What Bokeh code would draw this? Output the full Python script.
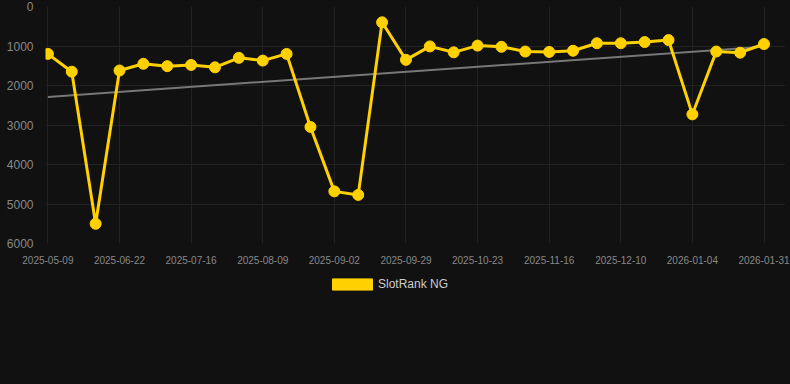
import numpy as np
from bokeh.plotting import figure
from bokeh.layouts import column
from bokeh.models import Range1d, FixedTicker, Legend, LegendItem, ColumnDataSource
from bokeh.embed import file_html
from bokeh.resources import INLINE

series_name = "SlotRank NG"
ranks = [1200, 1650, 5500, 1620, 1450, 1510, 1480, 1540, 1300, 1370, 1200,
         3050, 4680, 4770, 400, 1350, 1010, 1160, 990, 1020, 1140, 1150,
         1120, 930, 930, 900, 850, 2730, 1140, 1170, 950]
tick_labels = ["2025-05-09", "2025-06-22", "2025-07-16", "2025-08-09", "2025-09-02",
               "2025-09-29", "2025-10-23", "2025-11-16", "2025-12-10", "2026-01-04",
               "2026-01-31"]
y_ticks = [0, 1000, 2000, 3000, 4000, 5000, 6000]

idx = list(range(len(ranks)))
tick_pos = idx[::3]

BG = "#111111"
GOLD = "#FFD100"

p = figure(width=790, height=270, output_backend="svg", toolbar_location=None,
           x_range=Range1d(-0.1, 30.9), y_range=Range1d(6000, 0),
           background_fill_color=BG, border_fill_color=BG,
           min_border_left=45, min_border_right=5, min_border_top=6,
           min_border_bottom=27)
p.outline_line_color = None

slope, intercept = np.polyfit(idx, ranks, 1)
trend = [slope * i + intercept for i in idx]
p.line([idx[0], idx[-1]], [trend[0], trend[-1]], line_color="#777777", line_width=2)

src = ColumnDataSource(dict(x=idx, y=ranks))
p.line("x", "y", source=src, line_color=GOLD, line_width=3)
p.scatter("x", "y", source=src, size=11, fill_color=GOLD, line_color=GOLD)

p.xaxis.ticker = FixedTicker(ticks=tick_pos)
p.xaxis.major_label_overrides = {i: lab for i, lab in zip(tick_pos, tick_labels)}
p.yaxis.ticker = FixedTicker(ticks=y_ticks)

for ax in (p.xaxis, p.yaxis):
    ax.axis_line_color = None
    ax.major_tick_line_color = None
    ax.minor_tick_line_color = None
    ax.major_label_text_color = "#888888"
    ax.major_label_text_font = "Liberation Sans"
p.xaxis.major_label_text_font_size = "10px"
p.yaxis.major_label_text_font_size = "12px"
p.xaxis.major_label_standoff = 6
p.yaxis.major_label_standoff = 6

p.xgrid.ticker = FixedTicker(ticks=tick_pos)
p.grid.grid_line_color = "#222222"
p.grid.grid_line_width = 1

# legend strip below the chart
lg = figure(width=790, height=114, output_backend="svg", toolbar_location=None,
            x_range=Range1d(0, 1), y_range=Range1d(0, 1),
            x_axis_type=None, y_axis_type=None,
            background_fill_color=BG, border_fill_color=BG,
            min_border=0)
lg.outline_line_color = None
lg.grid.visible = False
nan = [float("nan")]
dummy = lg.quad(left=nan, right=nan, top=nan, bottom=nan,
                fill_color=GOLD, line_color=GOLD)

legend = Legend(items=[LegendItem(label=series_name, renderers=[dummy])],
                orientation="horizontal", location=(282, 93),
                background_fill_alpha=0, border_line_color=None,
                label_text_color="#cccccc", label_text_font_size="12px",
                label_text_font="Liberation Sans",
                glyph_width=50, glyph_height=14, label_height=14,
                label_standoff=1, padding=0, margin=0)
lg.add_layout(legend, "center")

layout = column(p, lg, spacing=0, styles={"background-color": BG})
open("out.html", "w").write(file_html(layout, INLINE))
